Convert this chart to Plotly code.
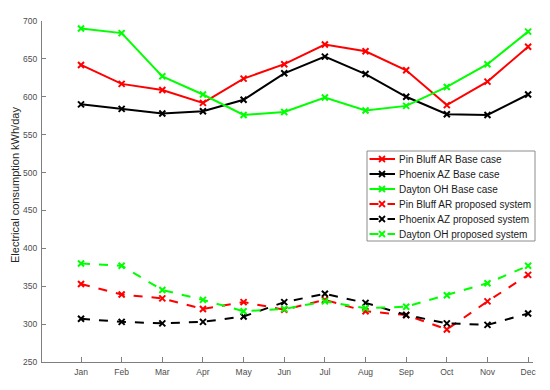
import plotly.graph_objects as go

months = ["Jan", "Feb", "Mar", "Apr", "May", "Jun", "Jul", "Aug", "Sep", "Oct", "Nov", "Dec"]
xpos = [1, 2, 3, 4, 5, 6, 7, 8, 9, 10, 11, 12]

pin_base = [642, 617, 609, 592, 624, 643, 669, 660, 635, 589, 620, 666]
phx_base = [590, 584, 578, 581, 596, 631, 653, 630, 600, 577, 576, 603]
day_base = [690, 684, 627, 603, 576, 580, 599, 582, 588, 613, 643, 686]
pin_prop = [353, 339, 334, 320, 329, 319, 332, 317, 312, 293, 330, 365]
phx_prop = [307, 303, 301, 303, 310, 329, 340, 328, 312, 301, 299, 314]
day_prop = [380, 377, 345, 332, 317, 320, 330, 321, 323, 338, 354, 377]

series = [
    ("Pin Bluff AR Base case", pin_base, "#ff0000", "solid"),
    ("Phoenix AZ Base case", phx_base, "#000000", "solid"),
    ("Dayton OH Base case", day_base, "#00ff00", "solid"),
    ("Pin Bluff AR proposed system", pin_prop, "#ff0000", "dash"),
    ("Phoenix AZ proposed system", phx_prop, "#000000", "dash"),
    ("Dayton OH proposed system", day_prop, "#00ff00", "dash"),
]

W, H = 550, 390
ML, MR, MT, MB = 42, 17, 21, 28
PW, PH = W - ML - MR, H - MT - MB

def px(x):
    return (x - ML) / PW

def py(y):
    return 1 - (y - MT) / PH

fig = go.Figure()
for name, vals, col, dash in series:
    fig.add_trace(go.Scatter(
        x=xpos, y=vals, name=name, mode="lines+markers", showlegend=False,
        line=dict(color=col, width=2, dash=dash),
        marker=dict(symbol="x-thin", size=6, line=dict(color=col, width=2), color=col),
    ))

# manual legend (MATLAB-like compact box)
shapes = []
annotations = []
box_l, box_r, box_t, box_b = 367, 535, 151, 241
shapes.append(dict(type="rect", xref="paper", yref="paper",
                   x0=px(box_l), x1=px(box_r), y0=py(box_b), y1=py(box_t),
                   line=dict(color="#8c8c8c", width=1), fillcolor="white", layer="above"))
row0, row_gap = 159, 15
for i, (name, vals, col, dash) in enumerate(series):
    yc = row0 + i * row_gap
    shapes.append(dict(type="line", xref="paper", yref="paper",
                       x0=px(369.5), x1=px(395), y0=py(yc), y1=py(yc),
                       line=dict(color=col, width=2, dash=dash), layer="above"))
    for dx0, dy0, dx1, dy1 in [(-3, -3, 3, 3), (-3, 3, 3, -3)]:
        shapes.append(dict(type="line", xref="paper", yref="paper",
                           x0=px(382 + dx0), x1=px(382 + dx1), y0=py(yc + dy0), y1=py(yc + dy1),
                           line=dict(color=col, width=1.8), layer="above"))
    annotations.append(dict(text=name, xref="paper", yref="paper", x=px(396.5), y=py(yc),
                            xanchor="left", yanchor="middle", showarrow=False,
                            font=dict(size=10, color="#1a1a1a")))

# y-axis title as rotated annotation
annotations.append(dict(text="Electrical consumption kWh/day", xref="paper", yref="paper",
                        x=px(15), y=py(185), xanchor="center", yanchor="middle",
                        textangle=-90, showarrow=False,
                        font=dict(size=11, color="#262626")))

fig.update_layout(
    width=W, height=H,
    margin=dict(l=ML, r=MR, t=MT, b=MB),
    paper_bgcolor="white", plot_bgcolor="white",
    font=dict(family="Liberation Sans, Arial, sans-serif", size=8.5, color="#4d4d4d"),
    showlegend=False,
    shapes=shapes,
    annotations=annotations,
    xaxis=dict(
        range=[0.04, 12.12], tickmode="array", tickvals=xpos, ticktext=months,
        showgrid=False, zeroline=False, showline=True, linecolor="#7f7f7f", linewidth=1,
        ticks="inside", ticklen=5, tickcolor="#7f7f7f", automargin=False,
        tickfont=dict(size=8.5, color="#4d4d4d"), ticklabelstandoff=2,
    ),
    yaxis=dict(
        range=[250, 700], tickvals=[250, 300, 350, 400, 450, 500, 550, 600, 650, 700],
        showgrid=False, zeroline=False, showline=True, linecolor="#7f7f7f", linewidth=1,
        ticks="inside", ticklen=4, tickcolor="#7f7f7f", automargin=False,
        tickfont=dict(size=8.5, color="#4d4d4d"), ticklabelstandoff=2,
    ),
)

fig.write_html("out.html", config={"displayModeBar": False},
               post_script="document.body.style.margin='0';")
